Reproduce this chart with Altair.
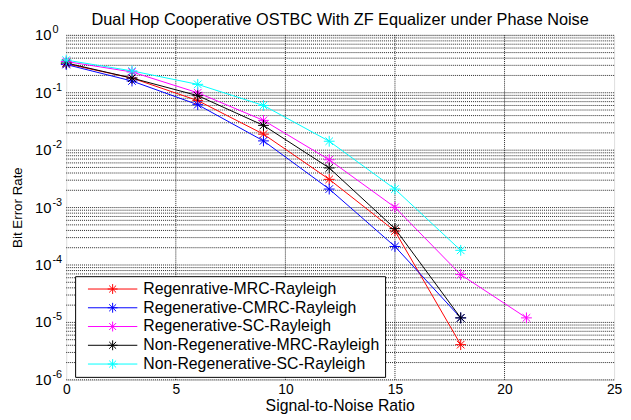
import altair as alt
import pandas as pd

# ---- data ----
snr = [0, 3, 6, 9, 12, 15, 18, 21]
series_names = [
    "Regenrative-MRC-Rayleigh",
    "Regenerative-CMRC-Rayleigh",
    "Regenerative-SC-Rayleigh",
    "Non-Regenerative-MRC-Rayleigh",
    "Non-Regenerative-SC-Rayleigh",
]
series_colors = ["#ff0000", "#0000ff", "#ff00ff", "#000000", "#00ffff"]

ber_reg_mrc = [0.32, 0.18, 0.073, 0.019, 0.0031, 0.00039, 4.1e-6]
ber_reg_cmrc = [0.31, 0.16, 0.062, 0.0145, 0.0021, 0.00021, 1.2e-5]
ber_reg_sc = [0.35, 0.23, 0.10, 0.033, 0.0068, 0.00101, 6.8e-5, 1.2e-5]
ber_nonreg_mrc = [0.33, 0.18, 0.089, 0.027, 0.0049, 0.00043, 1.2e-5]
ber_nonreg_sc = [0.37, 0.24, 0.14, 0.060, 0.0143, 0.0021, 0.00018]

x_ticks = [0, 5, 10, 15, 20, 25]
x_grid = [5, 10, 15, 20]
y_exponents = [0, -1, -2, -3, -4, -5, -6]
minor_mult = [1, 2, 3, 4, 5, 6, 7, 8, 9]

title_text = "Dual Hop Cooperative OSTBC With ZF Equalizer under Phase Noise"
x_title = "Signal-to-Noise Ratio"
y_title = "Bit Error Rate"

FONT = "Liberation Sans"
W, H = 555, 349

# ---- tables ----
all_series = [ber_reg_mrc, ber_reg_cmrc, ber_reg_sc, ber_nonreg_mrc, ber_nonreg_sc]
rows = []
for name, vals in zip(series_names, all_series):
    for s, v in zip(snr, vals):
        rows.append({"snr": s, "ber": v, "series": name})
df = pd.DataFrame(rows)

ygrid_df = pd.DataFrame(
    {"g": [m * 10.0 ** e for e in y_exponents[1:] for m in minor_mult] + [1.0]}
)
xgrid_df = pd.DataFrame({"gx": x_grid})
ylab_df = pd.DataFrame(
    {"v": [10.0 ** e for e in y_exponents], "exp": [str(e) for e in y_exponents]}
)

xscale = alt.Scale(domain=[0, 25], nice=False, zero=False)
yscale = alt.Scale(type="log", domain=[1e-6, 1], nice=False)

xaxis = alt.Axis(
    values=x_ticks,
    grid=False,
    ticks=False,
    domain=False,
    labelFlush=False,
    labelFont=FONT,
    labelFontSize=14,
    labelColor="black",
    labelPadding=3,
    title=None,
)
yaxis = alt.Axis(
    labels=False,
    ticks=False,
    grid=False,
    domain=False,
    title=None,
)

star = "M-1,0L1,0M0,-1L0,1M-0.7,-0.7L0.7,0.7M-0.7,0.7L0.7,-0.7"
legend_sym = "M-5,0L5,0" + star

color_scale = alt.Scale(domain=series_names, range=series_colors)
color = alt.Color(
    "series:N",
    scale=color_scale,
    legend=alt.Legend(
        title=None,
        orient="none",
        legendX=9,
        legendY=244,
        symbolType=legend_sym,
        symbolSize=100,
        symbolStrokeWidth=1,
        symbolFillColor="transparent",
        symbolOffset=25,
        labelOffset=23,
        labelFont=FONT,
        labelFontSize=16,
        labelColor="black",
        labelLimit=400,
        rowPadding=3,
        padding=5,
        fillColor="white",
        strokeColor="black",
        cornerRadius=0,
    ),
)

ygrid = alt.Chart(ygrid_df).mark_rule(
    color="black", strokeDash=[1, 1], strokeWidth=1, opacity=0.85
).encode(y=alt.Y("g:Q", scale=yscale, axis=yaxis))

xgrid = alt.Chart(xgrid_df).mark_rule(
    color="black", strokeDash=[1, 1], strokeWidth=1, opacity=0.85
).encode(x=alt.X("gx:Q", scale=xscale, axis=xaxis))

lines = alt.Chart(df).mark_line(strokeWidth=1).encode(
    x=alt.X("snr:Q", scale=xscale, axis=xaxis),
    y=alt.Y("ber:Q", scale=yscale, axis=yaxis),
    color=color,
)

points = alt.Chart(df).mark_point(
    shape=star, size=120, filled=False, strokeWidth=1, opacity=1
).encode(
    x=alt.X("snr:Q", scale=xscale, axis=xaxis),
    y=alt.Y("ber:Q", scale=yscale, axis=yaxis),
    color=color,
)

ylab_base = alt.Chart(ylab_df).mark_text(
    align="right", baseline="middle", font=FONT, fontSize=15, color="black"
).encode(
    x=alt.value(-15),
    y=alt.Y("v:Q", scale=yscale, axis=yaxis),
    text=alt.value("10"),
)
ylab_exp = alt.Chart(ylab_df).mark_text(
    align="left", baseline="middle", font=FONT, fontSize=11, color="black", dy=-5
).encode(
    x=alt.value(-14),
    y=alt.Y("v:Q", scale=yscale, axis=yaxis),
    text="exp:N",
)

title_df = pd.DataFrame({"t": [title_text]})
title_mark = alt.Chart(title_df).mark_text(
    align="center", baseline="alphabetic", font=FONT, fontSize=16.5, color="black"
).encode(x=alt.value(W / 2), y=alt.value(-10), text="t:N")

xtitle_df = pd.DataFrame({"t": [x_title]})
xtitle_mark = alt.Chart(xtitle_df).mark_text(
    align="center", baseline="alphabetic", font=FONT, fontSize=16, color="black"
).encode(x=alt.value(W / 2), y=alt.value(H + 32), text="t:N")

ytitle_df = pd.DataFrame({"t": [y_title]})
ytitle_mark = alt.Chart(ytitle_df).mark_text(
    align="center", baseline="alphabetic", font=FONT, fontSize=13.5, color="black",
    angle=270,
).encode(x=alt.value(-45), y=alt.value(H / 2), text="t:N")

chart = (
    alt.layer(
        ygrid, xgrid, lines, points, ylab_base, ylab_exp,
        title_mark, xtitle_mark, ytitle_mark,
    )
    .properties(
        width=W,
        height=H,
        autosize=alt.AutoSizeParams(type="none"),
        padding={"left": 59, "top": 25, "right": 9, "bottom": 37},
    )
    .configure_view(stroke="black", strokeWidth=1)
    .configure(background="white")
)

chart.save("out.html", embed_options={"renderer": "svg", "actions": False})
